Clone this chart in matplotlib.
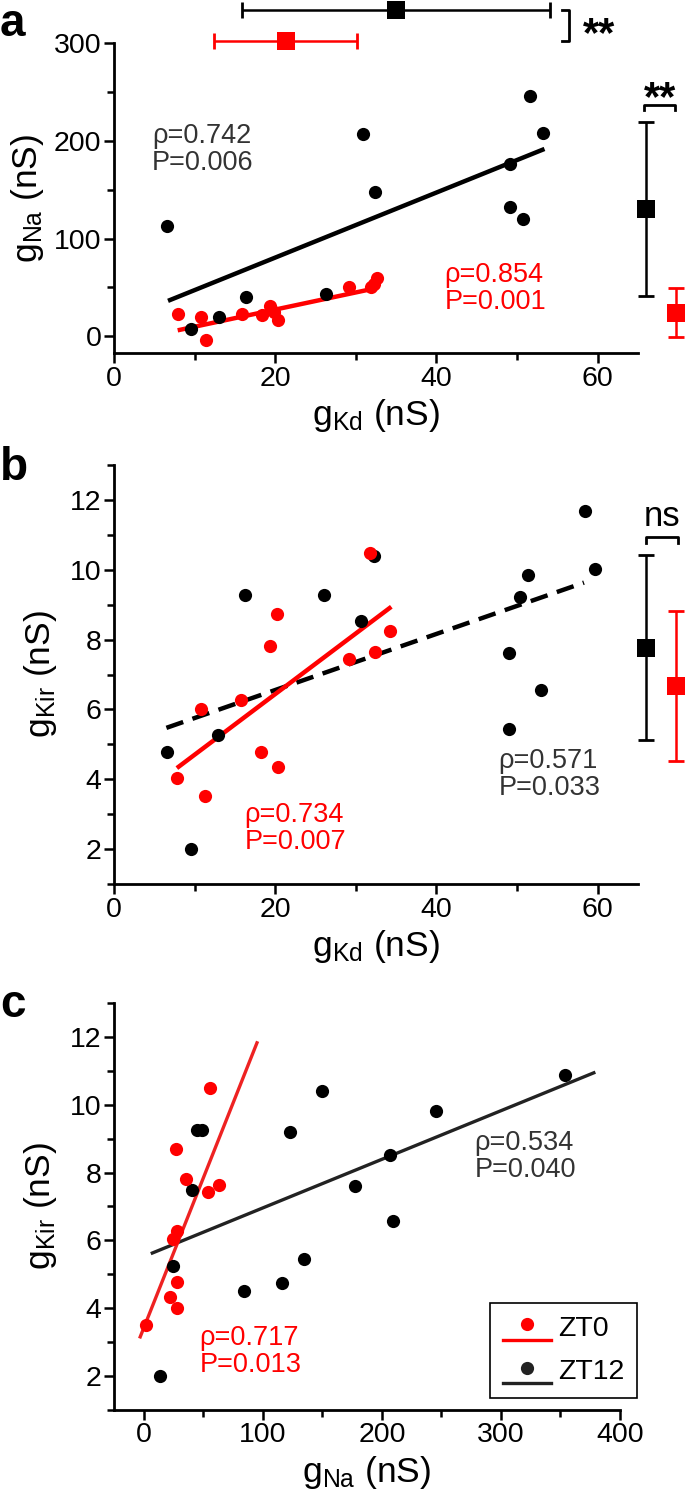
import numpy as np
import matplotlib
matplotlib.use("Agg")
import matplotlib.pyplot as plt
from matplotlib.lines import Line2D
from matplotlib.legend_handler import HandlerBase
from matplotlib.ticker import MultipleLocator

plt.rcParams['font.family'] = ['Liberation Sans', 'DejaVu Sans']
plt.rcParams['mathtext.fontset'] = 'custom'
plt.rcParams['mathtext.rm'] = 'Liberation Sans'
plt.rcParams['mathtext.it'] = 'Liberation Sans'

# ---------------- data ----------------
# panel a: gKd vs gNa
a_zt12_gkd = [6.6, 9.6, 13.0, 16.4, 26.3, 30.9, 32.4, 49.1, 49.1, 50.7, 51.6, 53.2]
a_zt12_gna = [112.8, 7.3, 19.4, 39.8, 43.3, 206.5, 148.0, 176.7, 132.5, 119.7, 246.0, 208.0]
a_zt0_gkd = [7.9, 10.8, 11.4, 15.9, 18.4, 19.3, 20.3, 19.8, 29.2, 31.9, 32.6, 32.3]
a_zt0_gna = [22.5, 20.0, -4.0, 23.0, 22.0, 31.0, 16.6, 25.0, 51.0, 50.5, 59.5, 54.0]

# panel b: gKd vs gKir
b_zt12_gkd = [58.4, 32.2, 16.3, 26.1, 51.3, 59.7, 50.4, 30.7, 49.0, 53.0, 49.0, 6.6, 12.9, 9.5]
b_zt12_gkir = [11.69, 10.38, 9.27, 9.27, 9.84, 10.03, 9.22, 8.53, 7.62, 6.55, 5.45, 4.77, 5.26, 2.0]
b_zt0_gkd = [31.7, 20.2, 19.3, 34.2, 32.4, 29.2, 10.8, 15.8, 18.2, 20.3, 7.8, 11.3]
b_zt0_gkir = [10.49, 8.72, 7.81, 8.26, 7.64, 7.45, 6.02, 6.26, 4.78, 4.34, 4.04, 3.51]

# panel c: gNa vs gKir
c_zt12_gna = [353.6, 150.0, 245.8, 122.8, 44.9, 48.7, 206.6, 40.2, 177.3, 209.1, 24.6, 134.7, 115.9, 84.1, 13.6]
c_zt12_gkir = [10.88, 10.40, 9.82, 9.21, 9.25, 9.25, 8.53, 7.49, 7.61, 6.56, 5.26, 5.46, 4.75, 4.50, 2.0]
c_zt0_gna = [55.6, 26.8, 35.3, 54.1, 62.8, 27.7, 24.6, 27.5, 22.1, 27.5, 2.1]
c_zt0_gkir = [10.5, 8.71, 7.82, 7.44, 7.64, 6.28, 6.03, 4.78, 4.34, 4.01, 3.52]

# linear fits: (slope, intercept, x_start, x_end)
a_fit_zt12 = [3.326, 14.05, 6.7, 53.4]
a_fit_zt0 = [1.753, -7.65, 7.9, 32.6]
b_fit_zt12 = [0.0803, 4.95, 6.5, 58.3]
b_fit_zt0 = [0.1737, 2.965, 7.8, 34.4]
c_fit_zt12 = [0.01433, 5.525, 5.9, 379.3]
c_fit_zt0 = [0.0884, 3.42, -3.5, 95.6]

# summary mean +/- error
gkd_mean = [35.0, 21.3]      # ZT12, ZT0
gkd_err = [19.1, 8.9]
gna_mean = [130.0, 24.0]
gna_err = [89.0, 25.0]
gkir_mean = [7.77, 6.67]
gkir_err = [2.65, 2.15]

stats_a = ["ρ=0.742\nP=0.006", "ρ=0.854\nP=0.001"]
stats_b = ["ρ=0.571\nP=0.033", "ρ=0.734\nP=0.007"]
stats_c = ["ρ=0.534\nP=0.040", "ρ=0.717\nP=0.013"]
legend_labels = ["ZT0", "ZT12"]

RED = '#ff0000'
BLK = '#000000'
GRY = '#333333'
LINE_BLK = '#222222'
STAT_FS = 19.5

W, H = 685, 1507
fig = plt.figure(figsize=(W / 100, H / 100), dpi=100)


def axes_px(left, top, right, bottom):
    return fig.add_axes([left / W, 1 - bottom / H, (right - left) / W, (bottom - top) / H])


def style(ax):
    for s in ['top', 'right']:
        ax.spines[s].set_visible(False)
    for s in ['left', 'bottom']:
        ax.spines[s].set_linewidth(2.0)
    ax.tick_params(which='major', direction='out', length=7, width=1.8, labelsize=20.5, pad=2)
    ax.tick_params(which='minor', direction='out', length=5, width=1.8)


def fitline(ax, fit, color, lw, **kw):
    m, b, x0, x1 = fit
    xs = np.array([x0, x1])
    ax.plot(xs, m * xs + b, color=color, lw=lw, solid_capstyle='butt', zorder=2, **kw)


def summary(ax, x, y, col, xerr=None, yerr=None):
    c = ax.errorbar([x], [y], xerr=xerr, yerr=yerr, fmt='none', ecolor=col,
                    elinewidth=1.8, capsize=6, capthick=2.0, zorder=5)
    for art in c.get_children():
        art.set_clip_on(False)
    ax.plot([x], [y], 's', color=col, ms=12.5, mew=0, zorder=6, clip_on=False)


MS = 9.5   # scatter dot size (pt)

# ---------------- panel a ----------------
axa = axes_px(114, 43, 638, 353)
style(axa)
axa.set_xlim(0, 65)
axa.set_ylim(-17, 300)
axa.xaxis.set_major_locator(MultipleLocator(20))
axa.xaxis.set_minor_locator(MultipleLocator(10))
axa.yaxis.set_major_locator(MultipleLocator(100))
axa.yaxis.set_minor_locator(MultipleLocator(50))
fitline(axa, a_fit_zt12, BLK, 3.2)
fitline(axa, a_fit_zt0, RED, 3.2)
axa.plot(a_zt12_gkd, a_zt12_gna, 'o', color=BLK, ms=MS, mew=0, zorder=3)
axa.plot(a_zt0_gkd, a_zt0_gna, 'o', color=RED, ms=MS, mew=0, zorder=4)
axa.set_xlabel(r"g$_{\rm Kd}$ (nS)", fontsize=25.5, labelpad=4)
axa.set_ylabel(r"g$_{\rm Na}$ (nS)", fontsize=25.5, labelpad=6)
axa.text(4.7, 218, stats_a[0], color=GRY, fontsize=STAT_FS, va='top', ha='left', linespacing=1.05)
axa.text(41, 76, stats_a[1], color=RED, fontsize=STAT_FS, va='top', ha='left', linespacing=1.05)
# summary (top: gKd)
summary(axa, gkd_mean[0], 334, BLK, xerr=[gkd_err[0]])
summary(axa, gkd_mean[1], 302, RED, xerr=[gkd_err[1]])
axa.plot([55.6, 56.4, 56.4, 55.6], [334, 334, 302, 302], color=BLK, lw=2.0, clip_on=False)
axa.text(60.2, 308, "**", fontsize=30, fontweight='bold', ha='center', va='center', clip_on=False)
# summary (right: gNa)
summary(axa, 66.0, gna_mean[0], BLK, yerr=[gna_err[0]])
summary(axa, 69.7, gna_mean[1], RED, yerr=[gna_err[1]])
axa.plot([65.7, 65.7, 69.6, 69.6], [231, 237, 237, 231], color=BLK, lw=2.0, clip_on=False)
axa.text(67.7, 243, "**", fontsize=30, fontweight='bold', ha='center', va='center', clip_on=False)

# ---------------- panel b ----------------
axb = axes_px(114, 465, 638, 884)
style(axb)
axb.set_xlim(0, 65)
axb.set_ylim(1, 13)
axb.xaxis.set_major_locator(MultipleLocator(20))
axb.xaxis.set_minor_locator(MultipleLocator(10))
axb.yaxis.set_major_locator(MultipleLocator(2))
axb.yaxis.set_minor_locator(MultipleLocator(1))
m, b0, x0, x1 = b_fit_zt12
xs = np.array([x0, x1])
axb.plot(xs, m * xs + b0, color=BLK, lw=3.2, dashes=(4.0, 2.2), zorder=2)
fitline(axb, b_fit_zt0, RED, 3.2)
axb.plot(b_zt12_gkd, b_zt12_gkir, 'o', color=BLK, ms=MS, mew=0, zorder=3)
axb.plot(b_zt0_gkd, b_zt0_gkir, 'o', color=RED, ms=MS, mew=0, zorder=4)
axb.set_xlabel(r"g$_{\rm Kd}$ (nS)", fontsize=25.5, labelpad=4)
axb.set_ylabel(r"g$_{\rm Kir}$ (nS)", fontsize=25.5, labelpad=8)
axb.text(47.7, 4.9, stats_b[0], color=GRY, fontsize=STAT_FS, va='top', ha='left', linespacing=1.05)
axb.text(16.2, 3.35, stats_b[1], color=RED, fontsize=STAT_FS, va='top', ha='left', linespacing=1.05)
summary(axb, 66.0, gkir_mean[0], BLK, yerr=[gkir_err[0]])
summary(axb, 69.7, gkir_mean[1], RED, yerr=[gkir_err[1]])
axb.plot([66.0, 66.0, 69.9, 69.9], [10.78, 10.93, 10.93, 10.78], color=BLK, lw=2.0, clip_on=False)
axb.text(68.0, 11.05, "ns", fontsize=25, ha='center', va='bottom', clip_on=False)

# ---------------- panel c ----------------
axc = axes_px(114, 1003, 620, 1410)
style(axc)
axc.set_xlim(-25, 400)
axc.set_ylim(1, 13)
axc.xaxis.set_major_locator(MultipleLocator(100))
axc.xaxis.set_minor_locator(MultipleLocator(50))
axc.yaxis.set_major_locator(MultipleLocator(2))
axc.yaxis.set_minor_locator(MultipleLocator(1))
fitline(axc, c_fit_zt12, LINE_BLK, 2.4)
fitline(axc, c_fit_zt0, '#ee2222', 2.4)
axc.plot(c_zt12_gna, c_zt12_gkir, 'o', color=BLK, ms=MS, mew=0, zorder=3)
axc.plot(c_zt0_gna, c_zt0_gkir, 'o', color=RED, ms=MS, mew=0, zorder=4)
axc.set_xlabel(r"g$_{\rm Na}$ (nS)", fontsize=25.5, labelpad=4)
axc.set_ylabel(r"g$_{\rm Kir}$ (nS)", fontsize=25.5, labelpad=8)
axc.text(278, 9.25, stats_c[0], color=GRY, fontsize=STAT_FS, va='top', ha='left', linespacing=1.05)
axc.text(47, 3.5, stats_c[1], color=RED, fontsize=STAT_FS, va='top', ha='left', linespacing=1.05)


class DotOverLine(HandlerBase):
    def create_artists(self, legend, orig_handle, xdescent, ydescent, width, height, fontsize, trans):
        col = orig_handle.get_color()
        cx = -xdescent + width / 2
        cy = -ydescent + height / 2
        dot = Line2D([cx], [cy + 0.05 * fontsize], marker='o', color=col, ms=9.5, mew=0,
                     linestyle='none', transform=trans)
        ln = Line2D([-xdescent, -xdescent + width], [cy - 0.5 * fontsize] * 2, color=col,
                    lw=2.4, transform=trans)
        return [dot, ln]


hz0 = Line2D([], [], color=RED)
hz12 = Line2D([], [], color=LINE_BLK)
leg = axc.legend([hz0, hz12], legend_labels, handler_map={Line2D: DotOverLine()},
                 loc='upper left', bbox_to_anchor=(490 / W, 1 - 1303 / H),
                 bbox_transform=fig.transFigure, fontsize=20.5, handlelength=1.7,
                 handletextpad=0.25, borderpad=0.45, labelspacing=0.6, borderaxespad=0,
                 frameon=True, fancybox=False, framealpha=1)
leg.get_frame().set_edgecolor('black')
leg.get_frame().set_linewidth(1.2)

# panel letters
fig.text(0 / W, 1 - 2 / H, "a", fontsize=33, fontweight='bold', va='top', ha='left')
fig.text(0 / W, 1 - 446 / H, "b", fontsize=33, fontweight='bold', va='top', ha='left')
fig.text(0 / W, 1 - 983 / H, "c", fontsize=33, fontweight='bold', va='top', ha='left')

fig.savefig("out.png", dpi=100)
